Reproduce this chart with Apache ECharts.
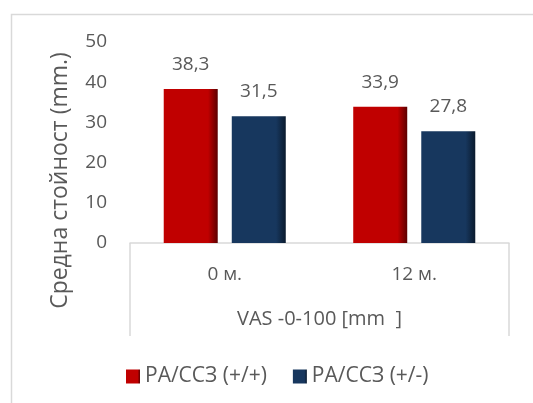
<!DOCTYPE html>
<html>
<head>
<meta charset="utf-8">
<script src="https://cdn.jsdelivr.net/npm/echarts@6/dist/echarts.min.js"></script>
<style>
  html, body { margin: 0; padding: 0; background: #fff; }
  #chart { width: 533px; height: 403px; }
</style>
</head>
<body>
<div id="chart"></div>
<script>
// Categories and values
const categories = ['0 м.', '12 м.'];
const groupLabel = ['VAS -0-100 [mm  ]'];
const seriesNames = ['РА/ССЗ (+/+)', 'РА/ССЗ (+/-)'];
const valuesBoth = [38.3, 33.9];
const valuesOne = [31.5, 27.8];
const yTicks = { min: 0, max: 50, interval: 10 };
const yTitle = 'Средна стойност (mm.)';

const FONT = '"Open Sans", "Noto Sans", sans-serif';
const TEXT = '#595959';
const LINE = '#d9d9d9';

// bevelled fill: flat face with a darker right edge
function barFill(face, edge) {
  return new echarts.graphic.LinearGradient(0, 0, 1, 0, [
    { offset: 0, color: face },
    { offset: 0.82, color: face },
    { offset: 1, color: edge }
  ]);
}

const fmt = v => String(v.value).replace('.', ',');

const chart = echarts.init(document.getElementById('chart'), null, { renderer: 'canvas' });
chart.setOption({
  animation: false,
  textStyle: { fontFamily: FONT },
  graphic: [{
    type: 'rect',
    left: 9, top: 12,
    shape: { width: 600, height: 500 },
    style: { fill: 'none', stroke: LINE, lineWidth: 1.5 },
    silent: true
  }],
  grid: { left: 130, right: 24, top: 42, bottom: 160 },
  legend: {
    top: 361,
    left: 121,
    itemWidth: 14,
    itemHeight: 14,
    itemGap: 26,
    icon: 'rect',
    textStyle: { color: TEXT, fontSize: 21, fontFamily: FONT }
  },
  xAxis: [{
    type: 'category',
    data: categories,
    position: 'bottom',
    axisLine: { show: true, lineStyle: { color: LINE, width: 1.5 } },
    axisTick: { show: false },
    axisLabel: { color: TEXT, fontSize: 19, fontFamily: FONT, margin: 22 }
  }, {
    type: 'category',
    data: groupLabel,
    position: 'bottom',
    axisLine: { show: false },
    axisTick: { show: true, length: 93, lineStyle: { color: LINE, width: 1.5 } },
    axisLabel: { color: TEXT, fontSize: 20, fontFamily: FONT, margin: 66 }
  }],
  yAxis: {
    type: 'value',
    min: yTicks.min,
    max: yTicks.max,
    interval: yTicks.interval,
    name: yTitle,
    nameLocation: 'middle',
    nameGap: 58,
    nameTextStyle: { color: TEXT, fontSize: 23, fontFamily: FONT, padding: [0, 76, 0, 0] },
    axisLine: { show: false },
    axisTick: { show: false },
    splitLine: { show: false },
    axisLabel: { color: TEXT, fontSize: 19, fontFamily: FONT, margin: 23 }
  },
  series: [{
    name: seriesNames[0],
    type: 'bar',
    xAxisIndex: 0,
    data: valuesBoth,
    barGap: '26%',
    barCategoryGap: '35.6%',
    itemStyle: { color: barFill('#C00000', '#5c0000') },
    label: {
      show: true, position: 'top', distance: 15,
      color: TEXT, fontSize: 19, fontFamily: FONT, formatter: fmt
    }
  }, {
    name: seriesNames[1],
    type: 'bar',
    xAxisIndex: 0,
    data: valuesOne,
    barGap: '26%',
    barCategoryGap: '35.6%',
    itemStyle: { color: barFill('#17375E', '#0a1a2e') },
    label: {
      show: true, position: 'top', distance: 15,
      color: TEXT, fontSize: 19, fontFamily: FONT, formatter: fmt
    }
  }]
});
</script>
</body>
</html>
